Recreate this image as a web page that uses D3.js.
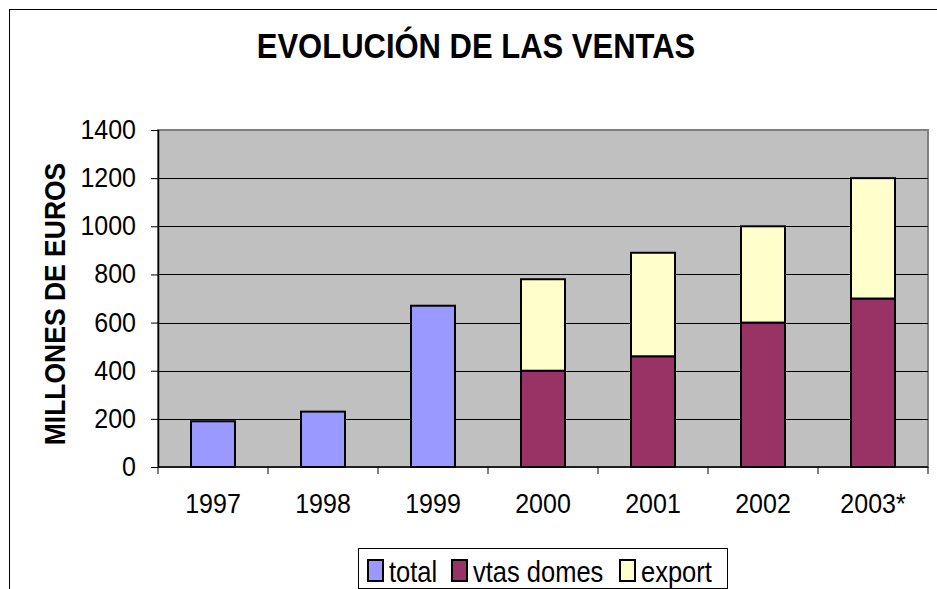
<!DOCTYPE html>
<html>
<head>
<meta charset="utf-8">
<script src="https://cdn.jsdelivr.net/npm/d3@7"></script>
<style>
  body { margin: 0; background: #fff; }
  svg { display: block; font-family: "Liberation Sans", Arial, sans-serif; }
</style>
</head>
<body>
<div class="chart"></div>
<script>
// Chart data
const years = ["1997", "1998", "1999", "2000", "2001", "2002", "2003*"];
const total = [190, 230, 670, 0, 0, 0, 0];
const vtasDomes = [0, 0, 0, 400, 460, 600, 700];
const exportVals = [0, 0, 0, 380, 430, 400, 500];
const seriesNames = ["total", "vtas domes", "export"];
const seriesColors = ["#9999FF", "#993366", "#FFFFCC"];
const yTicks = [0, 200, 400, 600, 800, 1000, 1200, 1400];

const width = 937, height = 589;
const margin = { top: 130, right: 9, bottom: 122, left: 158 };
const plotW = width - margin.left - margin.right;
const plotH = height - margin.top - margin.bottom;
const stretch = 1.13; // the text in the picture is a bit taller than wide

const svg = d3.select(".chart")
    .append("svg")
    .attr("width", width)
    .attr("height", height);

// outer chart border (runs off the picture at right and bottom)
svg.append("rect")
    .attr("x", 9.5).attr("y", 9.5)
    .attr("width", width + 20).attr("height", height + 20)
    .attr("fill", "none")
    .attr("stroke", "#000");

const g = svg.append("g")
    .attr("transform", "translate(" + margin.left + "," + margin.top + ")");

const x = d3.scaleBand().domain(years).range([0, plotW]).paddingInner(0.6).paddingOuter(0.3);
const xBoundary = d3.scaleLinear().domain([0, years.length]).range([0, plotW]);
const y = d3.scaleLinear().domain([0, 1400]).range([plotH, 0]);

// plot area
g.append("rect")
    .attr("width", plotW).attr("height", plotH)
    .attr("fill", "#C0C0C0")
    .attr("stroke", "#808080")
    .attr("stroke-width", 2);

// gridlines
g.selectAll(".grid")
    .data(yTicks.filter(d => d > 0 && d < 1400))
    .join("line")
    .attr("x1", 0).attr("x2", plotW)
    .attr("y1", d => Math.round(y(d)) + 0.5)
    .attr("y2", d => Math.round(y(d)) + 0.5)
    .attr("stroke", "#000")
    .attr("stroke-width", 1);

// stacked bars
const rows = years.map((yr, i) => ({ year: yr, total: total[i], vtas: vtasDomes[i], exp: exportVals[i] }));
const stack = d3.stack().keys(["total", "vtas", "exp"])(rows);

g.selectAll(".series")
    .data(stack)
    .join("g")
    .attr("fill", (d, i) => seriesColors[i])
    .selectAll("rect")
    .data(d => d.filter(p => p[1] - p[0] > 0))
    .join("rect")
    .attr("x", d => x(d.data.year))
    .attr("width", x.bandwidth())
    .attr("y", d => y(d[1]))
    .attr("height", d => y(d[0]) - y(d[1]))
    .attr("stroke", "#000")
    .attr("stroke-width", 2);

// y axis
const yAxis = d3.axisLeft(y).tickValues(yTicks).tickSize(7).tickFormat(d3.format("d"));
g.append("g")
    .call(yAxis)
    .call(a => a.select(".domain").attr("stroke", "#000").attr("stroke-width", 1.5).attr("d", "M0.5," + plotH + "V0"))
    .call(a => a.selectAll(".tick line").attr("stroke", "#000"))
    .call(a => a.selectAll(".tick text").remove());
g.selectAll(".ylab")
    .data(yTicks)
    .join("text")
    .attr("transform", d => "translate(-22," + (y(d) + 9) + ") scale(1," + stretch + ")")
    .attr("text-anchor", "end")
    .attr("font-size", 25)
    .text(d => d);

// x axis baseline and boundary ticks
const xa = g.append("g").attr("transform", "translate(0," + plotH + ")");
xa.append("line")
    .attr("x1", 0).attr("x2", plotW)
    .attr("stroke", "#000").attr("stroke-width", 1.5);
xa.selectAll(".bt")
    .data(d3.range(years.length + 1))
    .join("line")
    .attr("x1", d => xBoundary(d)).attr("x2", d => xBoundary(d))
    .attr("y1", 0).attr("y2", 7)
    .attr("stroke", "#000");
xa.selectAll(".xl")
    .data(years)
    .join("text")
    .attr("transform", d => "translate(" + (x(d) + x.bandwidth() / 2) + ",46) scale(1," + stretch + ")")
    .attr("text-anchor", "middle")
    .attr("font-size", 25)
    .text(d => d);

// title
svg.append("text")
    .attr("transform", "translate(476,58) scale(1," + stretch + ")")
    .attr("text-anchor", "middle")
    .attr("font-size", 31)
    .attr("font-weight", "bold")
    .text("EVOLUCIÓN DE LAS VENTAS");

// y label
svg.append("text")
    .attr("transform", "translate(65,304) rotate(-90) scale(1," + stretch + ")")
    .attr("text-anchor", "middle")
    .attr("font-size", 26.5)
    .attr("font-weight", "bold")
    .text("MILLONES DE EUROS");

// legend
const legend = svg.append("g").attr("transform", "translate(358,548)");
legend.append("rect")
    .attr("x", 0.5).attr("y", 0.5)
    .attr("width", 369).attr("height", 40)
    .attr("fill", "#fff").attr("stroke", "#000");
const legendX = [10, 94, 262];
const item = legend.selectAll(".li")
    .data(seriesNames)
    .join("g")
    .attr("transform", (d, i) => "translate(" + legendX[i] + ",0)");
item.append("rect")
    .attr("x", 0).attr("y", 12)
    .attr("width", 15).attr("height", 21)
    .attr("fill", (d, i) => seriesColors[i])
    .attr("stroke", "#000").attr("stroke-width", 2);
item.append("text")
    .attr("transform", "translate(21,34) scale(1," + stretch + ")")
    .attr("font-size", 25.5)
    .text(d => d);
</script>
</body>
</html>
